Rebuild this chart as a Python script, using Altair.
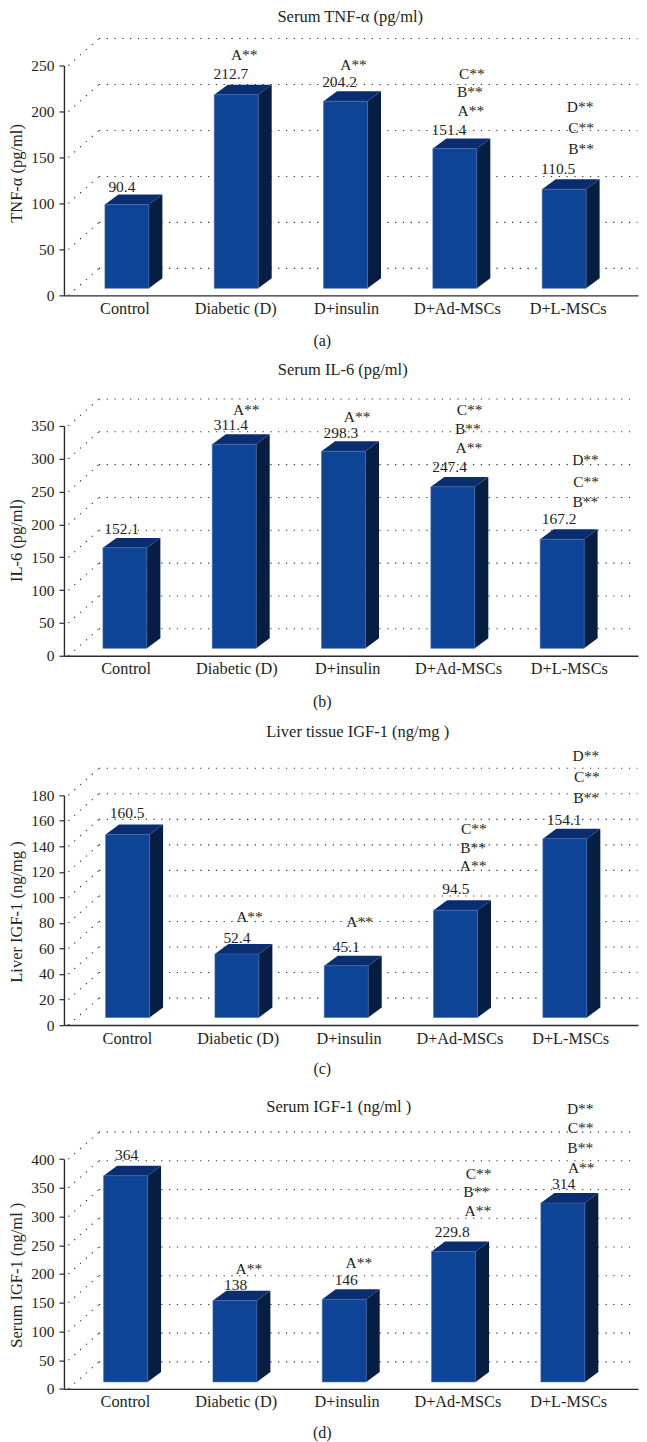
import altair as alt
import pandas as pd

FONT = "Liberation Serif"
INK = "#231f20"
FRONT, SIDE, TOP = "#0e4496", "#051e42", "#0a2d70"

categories = ["Control", "Diabetic (D)", "D+insulin", "D+Ad-MSCs", "D+L-MSCs"]

# bar tops as read on the printed axis, and the printed value labels
tops_a = [98.9, 218.2, 211.2, 159.8, 115.5]
tops_b = [164.3, 322.2, 311.5, 257.2, 177.6]
tops_c = [149.2, 55.6, 46.4, 90.0, 146.0]
tops_d = [371.0, 153.6, 155.8, 239.3, 323.5]
labels_a = ["90.4", "212.7", "204.2", "151.4", "110.5"]
labels_b = ["152.1", "311.4", "298.3", "247.4", "167.2"]
labels_c = ["160.5", "52.4", "45.1", "94.5", "154.1"]
labels_d = ["364", "138", "146", "229.8", "314"]

# significance marks for each bar
marks_a = [[], ["A**"], ["A**"], ["A**", "B**", "C**"], ["B**", "C**", "D**"]]
marks_b = [[], ["A**"], ["A**"], ["A**", "B**", "C**"], ["B**", "C**", "D**"]]
marks_c = [[], ["A**"], ["A**"], ["A**", "B**", "C**"], ["B**", "C**", "D**"]]
marks_d = [[], ["A**"], ["A**"], ["A**", "B**", "C**"], ["A**", "B**", "C**", "D**"]]

# label placement in pixels relative to the bar's front-top centre (dx, up)
value_off_a = [(-5, 17.3), (-5.3, 20.3), (-6, 19.7), (-6, 18), (-6, 20.4)]
value_off_b = [(-3.3, 18.7), (-3.4, 19.7), (-2.7, 18), (-3.3, 20), (-3, 20)]
value_off_c = [(-0.4, 21.4), (0, 16), (0, 19.3), (0.3, 21), (-0.7, 18.7)]
value_off_d = [(1, 21), (0.7, 16), (2, 19.7), (-1.3, 19.4), (0.7, 19)]
mark_off_a = [[], [(8, 39.3)], [(8, 36.7)], [(16, 37), (15, 56.3), (17, 74)], [(17, 39.7), (17, 61), (16, 82)]]
mark_off_b = [[], [(12, 34)], [(13.6, 34.3)], [(16, 39), (15, 58.4), (16.7, 76.7)], [(23.3, 37.3), (24, 57.3), (23.3, 79)]]
mark_off_c = [[], [(12.6, 36.6)], [(13.3, 44.3)], [(17.6, 44.3), (17.6, 62.6), (18.3, 81)], [(21.3, 40.4), (22, 61.4), (21, 83)]]
mark_off_d = [[], [(14, 31.7)], [(14.6, 36.4)], [(24.3, 40), (22.7, 59), (25, 77.7)], [(18.4, 35), (17.4, 55), (17.7, 75), (17.4, 94)]]

UNIT = 109.4      # px between bars
AXIS_X = 64       # page x of the y axis
BAR_W = 44
DEPTH_X, DEPTH_Y = 13.5, 10
WALL_X0, WALL_X1 = 99, 4.5 + AXIS_X
PLOT_H = 230
PLOT_W = 574.5    # the page cannot draw right of x=639
SPACING = 130.7


def panel(title, title_x, title_y, ytitle, ytitle_y, ticks, tops, labels, marks, val_off, mark_off,
          first_center, base_px, wall_end, extra, label_shift, letter, letter_y):
    ymax = ticks[-1]
    sy = PLOT_H / ymax                     # px per unit
    dmin = -(first_center - AXIS_X) / UNIT
    dmax = dmin + PLOT_W / UNIT
    xs = alt.Scale(domain=[dmin, dmax], nice=False, zero=False)
    ys = alt.Scale(domain=[0, ymax], nice=False, zero=False, range=[PLOT_H + extra, extra])
    to_x = lambda px: dmin + (px - AXIS_X) / UNIT     # page px -> bar units
    base = base_px / sy
    hw = BAR_W / 2 / UNIT
    dx, dy = DEPTH_X / UNIT, DEPTH_Y / sy

    wall = []
    for t in ticks:
        wy = t + 27 / sy
        wall.append(dict(x=to_x(WALL_X1), x2=to_x(WALL_X0), y=t, y2=wy))
        wall.append(dict(x=to_x(WALL_X0), x2=to_x(wall_end), y=wy, y2=wy))

    fronts, sides, caps, texts = [], [], [], []
    for i, top in enumerate(tops):
        l, r = i - hw, i + hw
        fronts.append(dict(x=l, x2=r, y=base, y2=top))
        sides += [dict(b=i, x=r, y=base, y2=top), dict(b=i, x=r + dx, y=base + dy, y2=top + dy)]
        caps += [dict(b=i, x=l, y=top, y2=top), dict(b=i, x=l + dx, y=top + dy, y2=top),
                 dict(b=i, x=r, y=top + dy, y2=top), dict(b=i, x=r + dx, y=top + dy, y2=top + dy)]
        ox, oy = val_off[i]
        texts.append(dict(x=i + ox / UNIT, y=top + oy / sy, t=labels[i]))
        for m, (mx, my) in zip(marks[i], mark_off[i]):
            texts.append(dict(x=i + mx / UNIT, y=top + my / sy, t=m))

    label_values = [i + (label_shift + 1.5 * i) / UNIT for i in range(len(categories))]
    cat_js = "[" + ",".join(f"'{c}'" for c in categories) + "]"

    x_axis = alt.Axis(
        title=letter, values=label_values, labelExpr=cat_js + "[round(datum.value)]",
        ticks=False, grid=False, domain=True, domainColor="#2b2b2b", domainWidth=1.4,
        labelFont=FONT, labelFontSize=16.3, labelColor=INK, labelPadding=5,
        labelOverlap=False, labelFlush=False,
        titleFont=FONT, titleFontSize=16, titleFontWeight="normal", titleColor=INK,
        titleX=258, titleY=letter_y, titleBaseline="middle", titleAlign="center")
    y_axis = alt.Axis(
        title=ytitle, values=ticks, grid=False, tickSize=5, tickColor="#2b2b2b", tickWidth=1.2,
        domainColor="#2b2b2b", domainWidth=1.4,
        labelFont=FONT, labelFontSize=15.5, labelColor=INK, labelPadding=5,
        titleFont=FONT, titleFontSize=16.5, titleFontWeight="normal", titleColor=INK,
        titleX=-39.5, titleY=ytitle_y + extra, titleAlign="center")

    X = lambda: alt.X("x:Q", scale=xs, axis=x_axis)
    Y = lambda: alt.Y("y:Q", scale=ys, axis=y_axis, stack=None)

    wall_layer = alt.Chart(pd.DataFrame(wall)).mark_rule(
        color="#2a2a2a", strokeWidth=1.1, strokeDash=[1.2, 6.6]
    ).encode(x=X(), x2="x2:Q", y=Y(), y2="y2:Q")
    front_layer = alt.Chart(pd.DataFrame(fronts)).mark_rect(
        color=FRONT, stroke="#3f69ad", strokeWidth=0.6
    ).encode(x=X(), x2="x2:Q", y=Y(), y2="y2:Q")
    side_layer = alt.Chart(pd.DataFrame(sides)).mark_area(color=SIDE, interpolate="linear").encode(
        x=X(), y=Y(), y2="y2:Q", detail="b:N")
    cap_layer = alt.Chart(pd.DataFrame(caps)).mark_area(color=TOP, interpolate="linear").encode(
        x=X(), y=Y(), y2="y2:Q", detail="b:N")
    text_layer = alt.Chart(pd.DataFrame(texts)).mark_text(
        font=FONT, fontSize=15.5, color=INK, align="center", baseline="middle"
    ).encode(x=X(), y=Y(), text="t:N")
    title_layer = alt.Chart(pd.DataFrame({"t": [title]})).mark_text(
        font=FONT, fontSize=16.5, color=INK, align="center", baseline="middle"
    ).encode(x=alt.value(title_x), y=alt.value(title_y + extra), text="t:N")

    return alt.layer(wall_layer, side_layer, cap_layer, front_layer, text_layer, title_layer).properties(
        width=PLOT_W, height=PLOT_H + extra,
    )


a = panel("Serum TNF-α (pg/ml)", 286.5, -48.5, "TNF-α (pg/ml)", 107.5, [0, 50, 100, 150, 200, 250],
          tops_a, labels_a, marks_a, value_off_a, mark_off_a, 127, 7, 638, 0, -2.5, "(a)", 45)
b = panel("Serum IL-6 (pg/ml)", 279, -55.7, "IL-6 (pg/ml)", 114.3, [0, 50, 100, 150, 200, 250, 300, 350],
          tops_b, labels_b, marks_b, value_off_b, mark_off_b, 125, 7.4, 636.7, 0, 0.7, "(b)", 46)
c = panel("Liver tissue IGF-1 (ng/mg )", 294, -63.3, "Liver IGF-1 (ng/mg )", 116.4,
          [0, 20, 40, 60, 80, 100, 120, 140, 160, 180],
          tops_c, labels_c, marks_c, value_off_c, mark_off_c, 127.7, 7.6, 638, 8.9, -0.7, "(c)", 43)
d = panel("Serum IGF-1 (ng/ml )", 275, -52.3, "Serum IGF-1 (ng/ml )", 115.7,
          [0, 50, 100, 150, 200, 250, 300, 350, 400],
          tops_d, labels_d, marks_d, value_off_d, mark_off_d, 125.7, 7, 636.7, 3.3, -0.7, "(d)", 44)

chart = alt.vconcat(a, b, c, d, spacing=SPACING, bounds="flush").properties(
    padding=0, background="white"
).configure_view(stroke=None)

chart.save("out.html", embed_options={"renderer": "svg", "actions": False})
